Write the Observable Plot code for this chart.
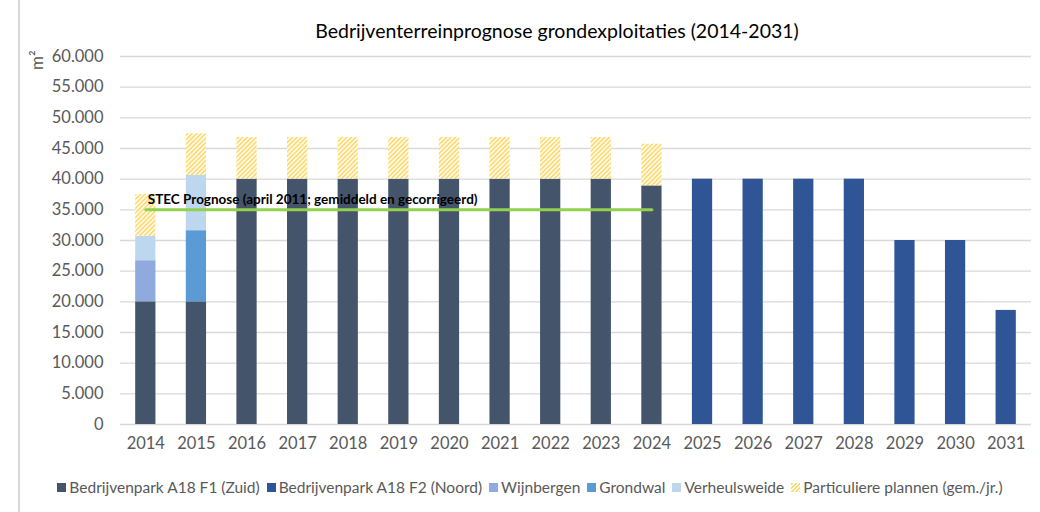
<!DOCTYPE html>
<html>
<head>
<meta charset="utf-8">
<script src="https://cdn.jsdelivr.net/npm/d3@7"></script>
<script src="https://cdn.jsdelivr.net/npm/@observablehq/plot@0.6"></script>
<style>
  body { margin: 0; background: #fff; font-family: Lato, "Open Sans", sans-serif; }
  #wrap { position: relative; width: 1040px; height: 512px; overflow: hidden; }
  #border { position: absolute; left: 18px; top: 0; width: 2px; height: 512px; background: #d9d9d9; }
  #title { height: 44px; line-height: 20px; padding-top: 21px; box-sizing: border-box; text-align: center; font-size: 19.5px; color: #000; padding-left: 74px; }
  #ylab { position: absolute; left: 26px; top: 70px; font-size: 17px; color: #595959; transform: rotate(-90deg); transform-origin: left top; white-space: nowrap; }
  #legend { display: flex; justify-content: center; align-items: center; gap: 7px; font-size: 15.5px; color: #595959; height: 36px; padding-left: 20px; }
  .item { display: flex; align-items: center; gap: 3px; }
  .sw { width: 9px; height: 9px; display: inline-block; }
</style>
</head>
<body>
<div id="wrap">
  <div id="border"></div>
  <div id="title">Bedrijventerreinprognose grondexploitaties (2014-2031)</div>
  <div id="ylab">m²</div>
  <div id="chart"></div>
  <div id="legend"></div>
</div>
<script>
const years = ["2014","2015","2016","2017","2018","2019","2020","2021","2022","2023","2024","2025","2026","2027","2028","2029","2030","2031"];
const seriesNames = ["Bedrijvenpark A18 F1 (Zuid)", "Bedrijvenpark A18 F2 (Noord)", "Wijnbergen", "Grondwal", "Verheulsweide", "Particuliere plannen (gem./jr.)"];
const f1Zuid      = [20000,20000,40000,40000,40000,40000,40000,40000,40000,40000,38900,0,0,0,0,0,0,0];
const f2Noord     = [0,0,0,0,0,0,0,0,0,0,0,40000,40000,40000,40000,30000,30000,18600];
const wijnbergen  = [6700,0,0,0,0,0,0,0,0,0,0,0,0,0,0,0,0,0];
const grondwal    = [0,11600,0,0,0,0,0,0,0,0,0,0,0,0,0,0,0,0];
const verheulsweide = [4000,9000,0,0,0,0,0,0,0,0,0,0,0,0,0,0,0,0];
const particulier = [6800,6800,6800,6800,6800,6800,6800,6800,6800,6800,6800,0,0,0,0,0,0,0];
const stecValue = 35000;
const stecYears = ["2014","2024"];
const stecLabel = "STEC Prognose (april 2011; gemiddeld en gecorrigeerd)";
const yTicks = [0,5000,10000,15000,20000,25000,30000,35000,40000,45000,50000,55000,60000];

const colors = ["#44546A", "#2F5597", "#8FAADC", "#5B9BD5", "#BDD7EE", "url(#hatchP)"];
const seriesValues = [f1Zuid, f2Noord, wijnbergen, grondwal, verheulsweide, particulier];

const data = [];
seriesValues.forEach((arr, si) => arr.forEach((v, i) => { if (v > 0) data.push({year: years[i], series: seriesNames[si], value: v}); }));
const stec = stecYears.map(y => ({year: y, value: stecValue}));

const fmt = v => v === 0 ? "0" : d3.format(",")(v).replace(/,/g, ".");

const chart = Plot.plot({
  width: 1040,
  height: 425,
  marginTop: 12,
  marginBottom: 45,
  marginLeft: 120,
  marginRight: 9,
  style: {fontFamily: "Lato, 'Open Sans', sans-serif", fontSize: "16.5px", color: "#595959", background: "#fff"},
  x: {type: "band", domain: years, paddingInner: 0.6, paddingOuter: 0.3, round: false, label: null, tickSize: 0, tickPadding: 13},
  y: {domain: [0, 60000], ticks: yTicks, tickFormat: fmt, label: null, tickSize: 0, tickPadding: 17},
  color: {domain: seriesNames, range: colors},
  marks: [
    Plot.gridY(yTicks, {stroke: "#d9d9d9", strokeOpacity: 1, strokeWidth: 1.3}),
    Plot.barY(data, {x: "year", y: "value", fill: "series", order: seriesNames}),
    Plot.lineY(stec, {x: "year", y: "value", stroke: "#92D050", strokeWidth: 3}),
    Plot.text(stec.slice(0,1), {x: "year", y: "value", text: () => stecLabel, textAnchor: "start", dx: 2, dy: -10, fontWeight: "bold", fontSize: 13.5, fill: "#000"})
  ]
});

// hatch pattern
const ns = "http://www.w3.org/2000/svg";
const defs = document.createElementNS(ns, "defs");
defs.innerHTML = `<pattern id="hatchP" patternUnits="userSpaceOnUse" width="3.2" height="3.2" patternTransform="rotate(45)">
  <rect x="0" y="0" width="3.2" height="3.2" fill="#fffaf0"/>
  <rect x="0" y="0" width="1.5" height="3.2" fill="#FFD966"/></pattern>`;
chart.insertBefore(defs, chart.firstChild);
document.getElementById("chart").appendChild(chart);

const legend = document.getElementById("legend");
seriesNames.forEach((name, i) => {
  const it = document.createElement("span");
  it.className = "item";
  const sw = document.createElement("span");
  sw.className = "sw";
  if (i === 5) sw.style.background = "repeating-linear-gradient(135deg, #FFD966 0 1.5px, #fffaf0 1.5px 3px)";
  else sw.style.background = colors[i];
  it.appendChild(sw);
  const t = document.createElement("span");
  t.textContent = name;
  it.appendChild(t);
  legend.appendChild(it);
});
</script>
</body>
</html>
